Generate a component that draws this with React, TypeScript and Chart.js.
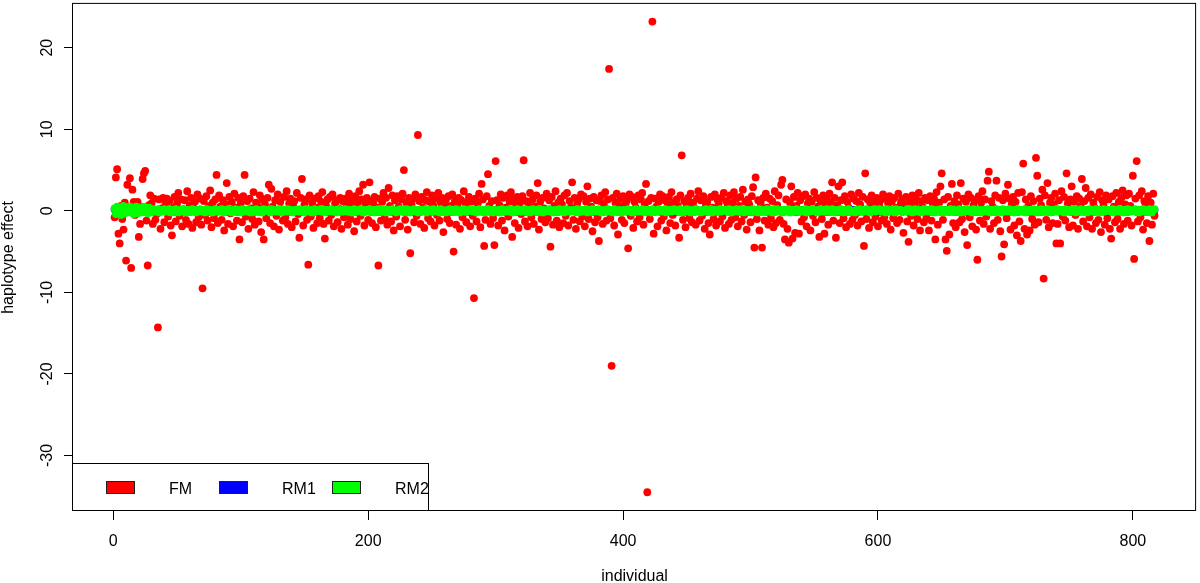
import React, { useEffect, useRef } from "react";
import { Chart, registerables } from "chart.js";

Chart.register(...registerables);

// FM haplotype effects, individual 1..817
const FM_VALUES: number[] = [
  -0.8, 4.1, 5.1, -2.8, -4.0, 0.6, -1.0, -2.3, 1.0, -6.1, 3.2, 0.4, 4.0, -7.0, 2.6, 1.1, -0.5, 0.8, 1.1, -3.2,
  -1.6, 0.5, 3.9, 4.6, 4.9, -1.2, -6.7, 0.7, 1.9, 0.9, -1.6, 1.5, -1.1, -0.4, -14.3, 1.4, -2.2, 0.3, 1.6, -1.4,
  0.8, 1.5, -0.7, 1.2, -1.8, -3.0, 0.4, 1.7, -1.3, 0.9, 2.2, -0.6, 1.4, -1.9, 0.2, 1.3, -1.1, 2.4, -1.6, 0.7,
  1.6, -2.1, 0.3, 1.1, -1.4, 2.0, -0.8, 1.5, -1.7, -9.5, 1.2, -0.5, 1.8, -1.2, 0.6, 2.5, -2.0, 1.0, -0.9, 1.4,
  4.4, -1.5, 1.9, 0.5, -1.1, 1.3, -2.4, 0.8, 3.4, -1.6, 1.7, -0.3, 1.1, -1.9, 2.1, 0.4, -1.2, 1.6, -3.5, 0.9,
  -1.4, 1.8, 4.4, -0.7, 1.2, -2.2, 1.5, 0.3, -1.0, 2.3, -1.7, 1.0, 0.6, -1.3, 1.9, -2.6, 1.4, -3.5, 0.8, -0.9,
  1.6, 3.2, -1.5, 2.7, 0.5, -1.9, 1.3, -0.6, 2.0, -2.3, 1.1, 0.2, -1.2, 1.7, -0.8, 2.4, -1.6, 0.9, 1.5, -2.0,
  0.7, 1.2, -1.3, 2.2, -0.4, -3.3, 1.6, 3.9, -1.8, 0.8, 1.4, -1.1, -6.6, 1.9, -0.7, 1.0, -2.1, 1.5, 0.4, -1.5,
  1.8, -0.9, 1.1, 2.3, -1.6, -3.4, 0.6, 1.4, -1.2, 1.7, -0.5, 2.0, -1.9, 0.9, 1.3, -1.4, 0.3, 1.6, -2.2, 1.2,
  -0.8, 1.5, 0.7, -1.7, 2.1, -1.0, 1.3, 0.5, -2.5, 1.8, -1.3, 1.0, 2.4, -0.6, 1.4, 3.2, -1.8, 0.8, 1.6, -1.1,
  3.5, 1.2, -1.5, 0.9, 1.7, -2.0, 0.4, -6.7, 1.5, -1.2, 1.1, 2.2, -0.9, 1.6, -1.7, 2.8, 0.6, -1.3, 1.9, -2.4,
  1.3, -0.7, 1.8, 0.5, -1.9, 1.4, 2.1, 5.0, -1.1, 1.0, -2.3, 1.6, -5.2, 0.8, 1.5, -1.4, 2.0, -0.6, 9.3, 1.2,
  -1.6, 1.7, 0.4, -2.1, 1.3, 2.3, -0.9, 1.1, -1.3, 1.9, 0.7, -1.8, 1.5, -0.5, 2.2, -1.2, 1.0, 1.6, -2.6, 0.9,
  1.4, -1.0, 1.8, -1.5, 0.6, 2.0, -5.0, 1.2, -1.7, 0.8, 1.6, -2.2, 1.3, -0.8, 2.4, 1.0, -1.4, 0.5, 1.7, -1.9,
  1.1, -0.6, -10.7, 1.5, -1.3, 0.9, 2.1, -2.0, 3.3, 1.4, -4.3, -1.1, 1.8, 4.5, 0.6, -1.6, 1.2, -0.9, -4.2, 6.1,
  1.3, -1.8, 0.7, 2.0, -1.2, 1.6, -2.4, 0.4, 1.9, -0.7, 1.1, 2.3, -3.2, 1.5, -1.5, 0.8, 1.7, -2.1, 1.0, -0.4,
  1.8, 6.2, -1.3, 1.2, -1.9, 0.9, 2.2, -0.8, 1.4, -1.6, 0.5, 1.9, 3.4, -2.3, 1.1, -1.0, 1.6, 0.3, -1.4, 2.1,
  -0.9, 1.3, -4.4, 1.7, -1.7, 0.6, 2.4, -1.2, 1.0, -2.0, 1.5, 0.8, -1.5, 1.9, -0.6, 2.2, -1.8, 1.2, 0.4, 3.5,
  -1.1, 1.6, -2.2, 0.9, 1.4, -1.3, 2.0, -0.7, 1.8, -1.9, 1.1, 3.0, -1.0, 1.5, 0.5, -2.5, 1.7, -1.4, 1.3, -0.8,
  -3.7, 1.2, 1.9, -1.6, 0.7, 2.3, -1.2, 1.4, 17.4, -0.9, -19.0, 1.6, -1.8, 1.0, 2.1, -2.9, 0.6, 1.5, -1.1, 1.8,
  -1.5, 0.9, 1.3, -4.6, 2.0, -0.6, 1.7, -2.1, 1.1, 0.4, -1.3, 1.9, -0.8, 1.4, 2.2, -1.7, 0.8, 3.3, -34.5, 1.2,
  -1.0, 1.6, 23.2, -2.8, 1.5, 0.5, -1.9, 1.1, 2.0, -1.2, 1.8, -0.7, 1.3, -2.4, 0.9, 1.7, -1.5, 2.3, -0.5, 1.0,
  -1.8, 1.4, 0.6, -3.3, 1.9, 6.8, -1.1, 1.2, -2.0, 0.8, 1.6, -0.9, 2.1, -1.4, 1.0, 0.3, -1.7, 1.5, 2.4, -1.2,
  1.3, -0.6, 1.8, -2.2, 0.7, 1.1, -1.5, -2.9, 1.7, 0.4, -1.0, 2.0, -1.8, 1.4, 0.9, -1.3, 1.6, -0.7, 2.2, -2.1,
  1.2, 0.5, -1.6, 1.9, -1.1, 1.0, 2.3, -0.8, 1.5, -1.9, 0.6, 1.7, -1.3, 2.6, -0.5, 1.1, -2.3, 1.4, 0.8, -1.4,
  1.8, 2.9, -4.5, 4.1, -1.0, 1.3, -2.4, 0.9, -4.5, 1.6, -1.2, 2.1, 0.4, -1.7, 1.5, -0.9, 1.2, -2.0, 2.4, -1.5,
  0.7, 1.9, -1.1, 3.2, 3.8, -1.6, -3.5, 1.4, -2.2, -3.9, 1.0, 3.0, -3.4, 1.7, -2.7, 0.6, 2.2, -2.8, 1.3, -1.3,
  1.8, -0.8, 2.0, -1.9, 0.9, 1.5, -2.4, 1.1, -0.6, 2.3, -1.4, 1.6, 0.5, -3.2, 1.2, -1.0, 1.9, -2.8, 0.8, 1.4,
  -1.7, 2.1, 1.0, 3.5, -1.2, 1.6, -3.3, 0.7, 3.0, -1.5, 1.3, 3.5, -0.9, 1.8, -2.0, 1.1, 0.4, -1.6, 2.0, -1.1,
  1.5, -0.5, 1.2, -1.8, 2.2, 0.8, -1.3, 1.7, -4.3, 4.6, -1.0, 1.4, -2.1, 0.9, 1.9, -1.4, 1.1, -0.7, 1.6, -1.9,
  0.6, 1.3, -1.2, 2.0, -0.8, 1.5, -1.6, 0.9, 1.8, -2.3, 1.2, -0.9, 1.6, 0.4, -1.5, 2.1, -1.1, 1.0, 1.4, -2.7,
  0.7, 1.7, -1.3, -3.8, 1.1, -0.6, 1.9, -1.8, 0.8, 1.4, -1.0, 2.2, -2.4, 1.2, 0.5, -1.4, 1.6, -0.9, 1.3, -2.4,
  1.8, -1.2, 0.9, 1.5, -3.5, 2.3, -1.7, 1.0, 3.0, 4.6, -1.1, 1.4, -3.5, -4.9, 1.7, -2.9, 0.6, 3.3, -1.5, 1.2,
  -2.0, 1.9, 0.8, -1.4, 3.4, -1.0, 1.5, -2.6, 1.1, -4.2, 2.0, -0.8, 1.6, -1.9, 0.7, 1.3, -2.3, -6.0, 1.8, -1.2,
  1.0, 2.4, -1.6, 1.4, -0.7, 3.7, 4.8, -2.2, 1.2, 0.5, -1.5, 1.9, 3.7, -1.1, 1.6, -2.5, -5.6, 1.3, -4.1, 2.1,
  -0.9, 3.2, 1.5, -2.3, 0.8, 1.7, -1.8, 1.1, -3.0, 2.2, -1.3, -3.7, 2.3, 5.8, -2.2, 1.4, -2.9, 0.6, -2.4, 1.8,
  -1.0, 1.2, -1.7, 6.5, 4.3, -1.4, 1.5, 0.7, 2.6, -8.3, 1.9, -1.1, 3.4, -2.0, 1.0, 1.6, -1.5, 0.8, 2.1, -4.0,
  -1.6, 1.3, -4.0, 2.4, -0.7, 1.7, -1.2, 4.6, 0.9, -2.0, 1.4, 3.0, -1.8, 1.1, -0.5, 1.8, -2.2, 1.5, 0.6, 3.9,
  -1.3, 1.2, 2.8, -1.9, 1.6, -0.8, 2.0, -2.2, 1.0, 0.4, -1.5, 1.7, -1.1, 2.3, -2.6, 1.3, 0.7, -1.7, 1.9, -0.9,
  1.4, -2.2, -3.4, 1.8, 0.5, -1.4, 2.2, -1.0, 1.1, -2.2, 1.6, 2.5, -1.6, 0.8, 1.9, -1.2, 2.1, 0.6, -1.8, 4.3,
  -5.9, 1.5, 6.1, -1.3, 1.9, -0.8, 2.4, -2.3, 1.2, 0.7, -1.5, 1.8, -3.7, 1.0, -1.7, 2.1, -0.6,
];

// RM1 haplotype effects (hidden under RM2 in the original)
const RM1_VALUES: number[] = [
  .2, -.3, .3, -.1, .2, -.3, .1, .4, -.2, 0, .3, -.1, .3, 0, .2, -.3, .1, .3, -.2, 0,
  .2, -.1, .2, .3, 0, .1, -.2, .2, 0, -.1, .1, 0, -.1, .1, .1, -.1, 0, .1, 0, .1,
  0, .1, -.1, 0, .1, 0, -.1, .1, 0, -.1, 0, .1, -.1, 0, .1, -.1, 0, 0, .1, -.1,
  .1, 0, 0, -.1, .1, 0, -.1, 0, .1, .1, -.1, 0, .1, 0, -.1, .1, 0, -.1, 0, .1,
  -.1, .1, 0, 0, .1, -.1, 0, .1, -.1, 0, .1, 0, -.1, .1, 0, 0, -.1, .1, 0, -.1,
  0, .1, -.1, .1, 0, 0, .1, -.1, 0, .1, -.1, 0, 0, .1, -.1, .1, 0, -.1, .1, 0,
  .1, -.1, 0, .1, 0, -.1, .1, 0, 0, -.1, .1, -.1, 0, .1, 0, -.1, 0, .1, -.1, .1,
  0, 0, .1, -.1, .1, 0, -.1, 0, .1, 0, -.1, .1, .1, -.1, 0, 0, .1, -.1, 0, .1,
  -.1, 0, .1, 0, -.1, .1, 0, .1, -.1, 0, 0, .1, -.1, .1, 0, -.1, .1, 0, 0, -.1,
  .1, .1, -.1, 0, .1, -.1, 0, .1, 0, -.1, .1, 0, -.1, 0, .1, .1, -.1, 0, .1, 0,
  0, -.1, .1, .1, 0, -.1, 0, .1, -.1, .1, 0, 0, .1, -.1, 0, .1, 0, -.1, .1, -.1,
  .1, 0, -.1, .1, 0, 0, .1, -.1, .1, 0, -.1, 0, .1, 0, -.1, .1, -.1, 0, .1, 0,
  -.1, .1, 0, 0, .1, -.1, .1, 0, -.1, 0, .1, .1, -.1, 0, 0, .1, -.1, .1, 0, -.1,
  0, .1, .1, -.1, 0, .1, -.1, 0, 0, .1, -.1, .1, 0, -.1, .1, 0, 0, -.1, .1, 0,
  .1, -.1, 0, .1, -.1, 0, .1, 0, .1, -.1, 0, -.1, .1, 0, .1, -.1, 0, .1, 0, -.1,
  0, .1, -.1, 0, .1, .1, -.1, 0, -.1, .1, 0, .1, 0, -.1, 0, .1, -.1, .1, 0, 0,
  .1, 0, -.1, .1, 0, -.1, .1, .1, 0, -.1, 0, .1, -.1, 0, .1, 0, -.1, 0, .1, -.1,
  -.1, .1, 0, 0, .1, -.1, 0, .1, -.1, .1, 0, 0, .1, -.1, 0, -.1, .1, 0, .1, 0,
  0, .1, -.1, .1, 0, 0, -.1, .1, 0, .1, -.1, 0, .1, 0, -.1, .1, 0, -.1, .1, 0,
  .1, -.1, .1, 0, -.1, 0, .1, 0, -.1, .1, .1, -.1, 0, .1, 0, -.1, 0, .1, -.1, .1,
  0, 0, .1, -.1, .1, 0, -.1, .1, 0, -.1, 0, .1, 0, -.1, .1, 0, .1, -.1, 0, .1,
  -.1, .1, 0, .1, -.1, 0, 0, .1, -.1, .1, 0, -.1, .1, 0, 0, .1, -.1, 0, .1, -.1,
  .1, 0, -.1, 0, .1, .1, -.1, 0, .1, -.1, 0, .1, 0, -.1, .1, -.1, 0, .1, 0, 0,
  0, -.1, .1, .1, 0, -.1, 0, .1, 0, .1, -.1, 0, -.1, .1, 0, .1, 0, -.1, .1, 0,
  .1, .1, -.1, 0, 0, .1, -.1, .1, 0, -.1, .1, 0, .1, -.1, 0, 0, .1, -.1, 0, .1,
  -.1, 0, .1, -.1, .1, 0, 0, -.1, .1, .1, 0, -.1, 0, .1, -.1, .1, 0, 0, -.1, .1,
  0, .1, 0, -.1, .1, -.1, .1, 0, 0, .1, -.1, 0, .1, .1, -.1, 0, -.1, .1, 0, .1,
  .1, -.1, 0, .1, 0, .1, -.1, 0, .1, -.1, 0, .1, -.1, 0, .1, 0, .1, -.1, 0, -.1,
  0, .1, -.1, 0, .1, 0, .1, -.1, -.1, .1, 0, 0, .1, -.1, .1, 0, -.1, 0, .1, .1,
  -.1, 0, .1, .1, -.1, 0, 0, .1, -.1, 0, .1, -.1, .1, 0, 0, .1, -.1, .1, 0, -.1,
  .1, 0, -.1, 0, .1, .1, -.1, 0, .1, 0, -.1, .1, 0, -.1, .1, 0, 0, .1, -.1, 0,
  0, .1, .1, -.1, 0, -.1, .1, 0, .1, -.1, 0, .1, 0, .1, -.1, 0, .1, -.1, 0, .1,
  -.1, .1, 0, 0, -.1, .1, 0, .1, -.1, .1, 0, -.1, .1, 0, 0, -.1, .1, .1, 0, -.1,
  .1, 0, -.1, .1, 0, 0, .1, -.1, .1, 0, -.1, 0, .1, .1, -.1, 0, .1, -.1, 0, .1,
  0, -.1, .1, 0, .1, -.1, 0, .1, 0, -.1, .1, .1, -.1, 0, .1, 0, -.1, .1, 0, 0,
  .1, .1, -.1, 0, .1, 0, -.1, 0, .1, -.1, .1, 0, 0, .1, -.1, .1, 0, -.1, .1, 0,
  -.1, 0, .1, .1, 0, -.1, .1, 0, -.1, .1, 0, .1, -.1, 0, 0, .1, -.1, 0, .1, .1,
  0, .1, -.1, 0, .1, -.1, 0, .1, .1, 0, -.1, .1, 0, -.1, .1, 0, .1, -.1, 0, 0,
  .1, -.1, 0, .1, 0, .1, -.1, .1, 0, -.1, 0, .1, .1, -.1, 0, .1, 0, -.1, .1, 0,
  -.1, .1, 0, 0, .1, -.1, .1, 0, -.1, .1, .1, 0, -.1, 0, .1, -.1, .1, 0, 0, .1,
  0, .1, -.1, .1, 0, 0, .1, -.1, 0, .1, -.1, .1, 0, .1, -.1, 0, .1,
];

// RM2 haplotype effects
const RM2_VALUES: number[] = [
  .3, -.4, .5, -.2, .4, -.5, .2, .6, -.3, .1, .4, -.2, .5, -.1, .3, -.4, .2, .5, -.3, .1,
  .4, -.2, .3, .5, -.1, .2, -.3, .4, .1, -.2, .2, 0, -.1, .1, .2, -.2, 0, .1, -.1, .2,
  .1, -.1, 0, .2, -.2, .1, 0, -.1, .2, .1, -.2, 0, .1, -.1, .2, 0, -.2, .1, .1, -.1,
  0, .2, -.1, .1, -.2, 0, .1, .2, -.1, 0, .1, -.2, .2, 0, -.1, .1, 0, -.2, .1, .2,
  -.1, 0, .1, -.1, .2, .1, -.2, 0, .1, .2, -.1, 0, -.2, .1, 0, .2, -.1, .1, 0, -.2,
  .2, -.1, 0, .1, -.1, .2, 0, -.2, .1, 0, -.1, .2, .1, -.1, 0, .1, -.2, .2, 0, .1,
  0, .1, -.2, .2, .1, -.1, 0, .1, -.1, .2, 0, -.2, .1, .1, -.1, 0, .2, -.1, .1, 0,
  -.2, .1, .1, 0, -.1, .2, -.1, 0, .1, -.2, .2, .1, 0, -.1, .1, -.2, 0, .2, -.1, .1,
  .1, 0, -.1, .2, 0, -.2, .1, .1, -.1, 0, .2, -.1, 0, .1, -.2, .1, .2, 0, -.1, 0,
  -.1, .2, 0, -.1, .1, .1, -.2, 0, .2, -.1, 0, .1, -.1, .2, 0, -.2, .1, 0, .1, -.1,
  .2, 0, -.1, .1, -.2, .1, 0, .2, -.1, .1, -.1, 0, .2, -.2, .1, 0, .1, -.1, .2, 0,
  0, -.2, .1, 0, .2, -.1, .1, 0, -.1, .2, .1, -.2, 0, .1, -.1, .2, 0, .1, -.2, .1,
  .1, .1, -.1, 0, .2, -.2, 0, .1, .1, -.1, .2, 0, -.1, .1, 0, -.2, .2, .1, -.1, 0,
  -.2, .1, 0, .2, -.1, 0, .1, -.1, .2, .1, 0, -.2, .1, 0, .2, -.1, -.1, .1, 0, .2,
  .2, -.1, .1, 0, -.2, .1, .2, -.1, 0, .1, -.2, 0, .1, .2, -.1, 0, .1, -.2, .1, 0,
  0, .1, -.2, .1, .2, 0, -.1, .1, -.1, 0, .2, .1, -.2, 0, .1, -.1, .2, 0, -.1, .1,
  -.1, 0, .2, -.1, .1, .1, -.2, 0, .2, -.1, .1, 0, -.1, .2, 0, .1, -.2, .1, 0, -.1,
  .1, .2, -.1, 0, -.2, .1, .1, 0, -.1, .2, 0, -.1, .1, -.2, .2, 0, .1, -.1, 0, .1,
  0, -.1, .1, .2, -.2, 0, .1, -.1, .1, 0, .2, -.2, 0, .1, -.1, .2, 0, .1, -.1, 0,
  .2, .1, -.2, 0, .1, -.1, 0, .2, -.1, .1, 0, -.2, .2, .1, 0, -.1, .1, 0, -.2, .1,
  -.1, .1, 0, .2, -.1, .1, -.2, 0, .1, .2, -.1, 0, .1, -.1, .2, 0, -.2, .1, .1, 0,
  .1, -.2, .2, 0, -.1, 0, .1, .2, -.1, 0, .1, -.1, .2, -.2, 0, .1, .1, -.1, 0, .2,
  0, .1, -.1, .1, .2, -.2, 0, .1, -.1, .2, 0, .1, -.2, 0, .1, -.1, .2, 0, .1, -.1,
  -.2, 0, .1, -.1, .2, .1, -.1, 0, .2, -.2, .1, 0, .1, -.1, 0, .2, -.1, .1, 0, .1,
  .1, -.1, .2, 0, -.2, .1, 0, -.1, .2, .1, -.1, 0, .2, .1, -.2, 0, .1, -.1, .1, 0,
  0, .2, -.1, .1, 0, -.2, .2, .1, -.1, 0, .1, -.1, .2, 0, -.1, .1, -.2, .2, 0, .1,
  .2, -.1, 0, .1, -.2, .1, .1, 0, -.1, .2, -.2, 0, .1, .1, -.1, .2, 0, -.1, .1, 0,
  -.1, .1, .2, -.2, 0, .1, -.1, .2, 0, .1, 0, -.2, .1, -.1, .2, 0, .1, -.1, 0, .2,
  .1, 0, -.1, .2, .1, -.2, 0, .1, -.1, .1, .2, 0, -.2, .1, 0, -.1, .2, .1, -.1, 0,
  0, -.2, .1, .1, -.1, .2, 0, -.1, .1, 0, .2, -.1, .1, -.2, 0, .1, .2, -.1, 0, .1,
  .2, .1, -.1, 0, .1, -.2, .2, 0, -.1, .1, 0, .1, -.2, .2, -.1, 0, .1, .1, -.1, 0,
  -.1, 0, .2, -.1, 0, .1, -.2, .1, .2, 0, -.1, .1, 0, -.2, .1, .2, -.1, 0, .1, -.1,
  .1, .2, 0, -.2, .1, -.1, .1, 0, .2, -.1, .1, -.2, 0, .1, .1, -.1, .2, 0, -.1, .1,
  0, -.1, .1, .2, -.2, 0, .1, -.1, .1, .2, 0, -.1, .1, -.2, .2, 0, -.1, .1, 0, .1,
  -.2, .1, 0, .1, -.1, .2, 0, -.2, .1, .1, -.1, 0, .2, -.1, .1, 0, -.2, .2, .1, 0,
  .1, -.1, .2, 0, -.1, .1, -.2, .1, 0, .2, -.1, .1, 0, -.1, .2, -.2, 0, .1, .1, -.1,
  0, .2, -.1, .1, -.2, 0, .1, .2, -.1, 0, .1, -.1, .2, 0, -.2, .1, .1, 0, -.1, .2,
  .2, -.1, 0, .1, .1, -.2, .2, 0, -.1, .1, 0, -.1, .2, .1, -.2, 0, .1, -.1, .2, 0,
  -.1, .1, .1, -.2, 0, .2, -.1, .1, 0, -.1, .2, 0, .1, -.2, .1, 0, .2, -.1, 0, .1,
  .1, 0, -.1, .2, -.2, .1, 0, .1, -.1, .2, 0, -.2, .1, .1, -.1, .2, 0, -.1, .1, 0,
  0, .2, -.1, .1, -.2, .1, 0, .2, -.1, .1, 0, -.1, .2, .1, -.2, .1, .2,
];

const X_TICKS = [0, 200, 400, 600, 800];
const Y_TICKS = [-30, -20, -10, 0, 10, 20];
const X_RANGE = [-31.64, 849.64];
const Y_RANGE = [-36.8, 25.37];
const SERIES_LABELS = ["FM", "RM1", "RM2"];
const SERIES_COLORS = ["#ff0000", "#0000ff", "#00ff00"];
const X_TITLE = "individual";
const Y_TITLE = "haplotype effect";

const FONT = '16px "Liberation Sans", Arial, Helvetica, sans-serif';

const toPoints = (vals: number[]) => vals.map((v, i) => ({ x: i + 1, y: v }));

const decorPlugin = {
  id: "decor",
  beforeDraw(chart: any) {
    const { ctx, width, height } = chart;
    ctx.save();
    ctx.fillStyle = "#ffffff";
    ctx.fillRect(0, 0, width, height);
    ctx.restore();
  },
  afterDraw(chart: any) {
    const { ctx, chartArea: a, scales } = chart;
    const xs = scales.x;
    const ys = scales.y;
    ctx.save();
    // plot box
    ctx.strokeStyle = "#000";
    ctx.lineWidth = 1;
    ctx.strokeRect(a.left - 0.5, a.top - 0.5, a.right - a.left, a.bottom - a.top);

    ctx.fillStyle = "#000";
    ctx.font = FONT;
    // x tick labels
    ctx.textAlign = "center";
    ctx.textBaseline = "alphabetic";
    X_TICKS.forEach((v) => {
      ctx.fillText(String(v), xs.getPixelForValue(v), 546);
    });
    // y tick labels (rotated, parallel to axis)
    Y_TICKS.forEach((v) => {
      ctx.save();
      ctx.translate(52, ys.getPixelForValue(v));
      ctx.rotate(-Math.PI / 2);
      ctx.fillText(String(v), 0, 0);
      ctx.restore();
    });
    // axis titles
    ctx.fillText(X_TITLE, (a.left + a.right) / 2, 581);
    ctx.save();
    ctx.translate(13, (a.top + a.bottom) / 2);
    ctx.rotate(-Math.PI / 2);
    ctx.fillText(Y_TITLE, 0, 0);
    ctx.restore();

    // legend (bottom-left, horizontal)
    const lx0 = a.left - 0.5;
    const lx1 = 428.5;
    const ly0 = 463.5;
    const ly1 = a.bottom - 0.5;
    ctx.fillStyle = "#fff";
    ctx.fillRect(lx0, ly0, lx1 - lx0, ly1 - ly0);
    ctx.strokeStyle = "#000";
    ctx.strokeRect(lx0, ly0, lx1 - lx0, ly1 - ly0);
    ctx.textAlign = "left";
    SERIES_LABELS.forEach((lab, i) => {
      const bx = 106 + i * 113;
      ctx.fillStyle = SERIES_COLORS[i];
      ctx.fillRect(bx + 0.5, 481.5, 28, 12);
      ctx.strokeStyle = "#222";
      ctx.strokeRect(bx + 0.5, 481.5, 28, 12);
      ctx.fillStyle = "#000";
      ctx.fillText(lab, 169 + i * 113, 493.5);
    });
    ctx.restore();
  },
};

export default function App() {
  const canvasRef = useRef<HTMLCanvasElement | null>(null);

  useEffect(() => {
    const canvas = canvasRef.current;
    if (!canvas) return;
    const valueSets = [FM_VALUES, RM1_VALUES, RM2_VALUES];
    const chart = new Chart(canvas, {
      type: "scatter",
      data: {
        datasets: SERIES_LABELS.map((lab, i) => ({
          label: lab,
          data: toPoints(valueSets[i]),
          backgroundColor: SERIES_COLORS[i],
          borderWidth: 0,
          pointRadius: 3.9,
          pointHoverRadius: 3.9,
          order: 3 - i,
        })),
      },
      options: {
        animation: false,
        responsive: false,
        devicePixelRatio: 1,
        events: [],
        layout: { padding: { top: 1, right: 1, left: 0, bottom: 0 } },
        plugins: {
          legend: { display: false },
          tooltip: { enabled: false },
        },
        scales: {
          x: {
            type: "linear",
            min: X_RANGE[0],
            max: X_RANGE[1],
            afterBuildTicks: (s: any) => {
              s.ticks = X_TICKS.map((v) => ({ value: v }));
            },
            afterFit: (s: any) => {
              s.height = 72;
            },
            grid: {
              drawOnChartArea: false,
              drawTicks: true,
              tickLength: 9,
              color: "#000",
              lineWidth: 1,
            },
            border: { display: false },
            ticks: { display: false },
          },
          y: {
            type: "linear",
            min: Y_RANGE[0],
            max: Y_RANGE[1],
            afterBuildTicks: (s: any) => {
              s.ticks = Y_TICKS.map((v) => ({ value: v }));
            },
            afterFit: (s: any) => {
              s.width = 73;
            },
            grid: {
              drawOnChartArea: false,
              drawTicks: true,
              tickLength: 9,
              color: "#000",
              lineWidth: 1,
            },
            border: { display: false },
            ticks: { display: false },
          },
        },
      },
      plugins: [decorPlugin],
    });
    return () => chart.destroy();
  }, []);

  return (
    <div style={{ position: "absolute", left: 0, top: 0, width: 1200, height: 583, background: "#fff" }}>
      <canvas ref={canvasRef} width={1200} height={583} style={{ display: "block", width: 1200, height: 583 }} />
    </div>
  );
}
